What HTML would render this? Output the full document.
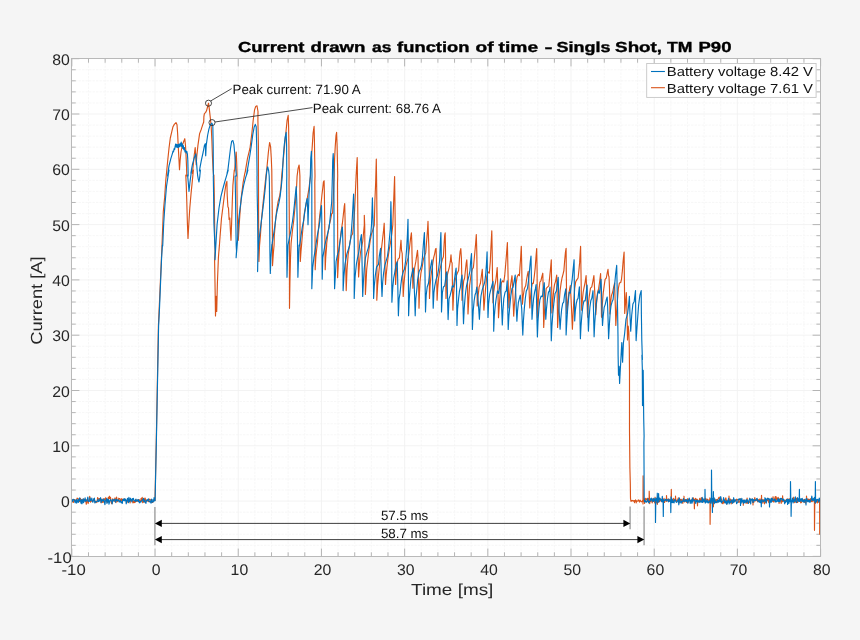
<!DOCTYPE html>
<html><head><meta charset="utf-8"><title>Current drawn as function of time</title>
<style>html,body{margin:0;padding:0;background:#f5f5f5;overflow:hidden}svg{display:block;will-change:transform}text{font-family:"Liberation Sans",sans-serif;text-rendering:geometricPrecision}</style></head><body>
<svg width="860" height="640" viewBox="0 0 860 640">
<rect x="0" y="0" width="860" height="640" fill="#f5f5f5"/>
<rect x="71.5" y="58.5" width="749.0" height="498.0" fill="#ffffff"/>
<path d="M88.49,58.5 V556.5 M105.13,58.5 V556.5 M121.77,58.5 V556.5 M138.41,58.5 V556.5 M171.68,58.5 V556.5 M188.32,58.5 V556.5 M204.96,58.5 V556.5 M221.60,58.5 V556.5 M254.88,58.5 V556.5 M271.52,58.5 V556.5 M288.15,58.5 V556.5 M304.79,58.5 V556.5 M338.07,58.5 V556.5 M354.71,58.5 V556.5 M371.35,58.5 V556.5 M387.99,58.5 V556.5 M421.26,58.5 V556.5 M437.90,58.5 V556.5 M454.54,58.5 V556.5 M471.18,58.5 V556.5 M504.46,58.5 V556.5 M521.10,58.5 V556.5 M537.74,58.5 V556.5 M554.38,58.5 V556.5 M587.65,58.5 V556.5 M604.29,58.5 V556.5 M620.93,58.5 V556.5 M637.57,58.5 V556.5 M670.85,58.5 V556.5 M687.49,58.5 V556.5 M704.12,58.5 V556.5 M720.76,58.5 V556.5 M754.04,58.5 V556.5 M770.68,58.5 V556.5 M787.32,58.5 V556.5 M803.96,58.5 V556.5 M71.5,545.34 H820.5 M71.5,534.28 H820.5 M71.5,523.22 H820.5 M71.5,512.16 H820.5 M71.5,490.04 H820.5 M71.5,478.98 H820.5 M71.5,467.92 H820.5 M71.5,456.86 H820.5 M71.5,434.74 H820.5 M71.5,423.68 H820.5 M71.5,412.62 H820.5 M71.5,401.56 H820.5 M71.5,379.44 H820.5 M71.5,368.38 H820.5 M71.5,357.32 H820.5 M71.5,346.26 H820.5 M71.5,324.14 H820.5 M71.5,313.08 H820.5 M71.5,302.02 H820.5 M71.5,290.96 H820.5 M71.5,268.84 H820.5 M71.5,257.78 H820.5 M71.5,246.72 H820.5 M71.5,235.66 H820.5 M71.5,213.54 H820.5 M71.5,202.48 H820.5 M71.5,191.42 H820.5 M71.5,180.36 H820.5 M71.5,158.24 H820.5 M71.5,147.18 H820.5 M71.5,136.12 H820.5 M71.5,125.06 H820.5 M71.5,102.94 H820.5 M71.5,91.88 H820.5 M71.5,80.82 H820.5 M71.5,69.76 H820.5" stroke="#f6f6f6" stroke-width="0.9" stroke-dasharray="2.4 1.1" fill="none"/>
<path d="M155.04,58.5 V556.5 M238.24,58.5 V556.5 M321.43,58.5 V556.5 M404.63,58.5 V556.5 M487.82,58.5 V556.5 M571.01,58.5 V556.5 M654.21,58.5 V556.5 M737.40,58.5 V556.5 M71.5,501.10 H820.5 M71.5,445.80 H820.5 M71.5,390.50 H820.5 M71.5,335.20 H820.5 M71.5,279.90 H820.5 M71.5,224.60 H820.5 M71.5,169.30 H820.5 M71.5,114.00 H820.5" stroke="#f2f2f2" stroke-width="0.9" fill="none"/>
<path d="M71.85,556.5 v-7.9 M71.85,58.5 v7.9 M88.49,556.5 v-4.2 M88.49,58.5 v4.2 M105.13,556.5 v-4.2 M105.13,58.5 v4.2 M121.77,556.5 v-4.2 M121.77,58.5 v4.2 M138.41,556.5 v-4.2 M138.41,58.5 v4.2 M155.04,556.5 v-7.9 M155.04,58.5 v7.9 M171.68,556.5 v-4.2 M171.68,58.5 v4.2 M188.32,556.5 v-4.2 M188.32,58.5 v4.2 M204.96,556.5 v-4.2 M204.96,58.5 v4.2 M221.60,556.5 v-4.2 M221.60,58.5 v4.2 M238.24,556.5 v-7.9 M238.24,58.5 v7.9 M254.88,556.5 v-4.2 M254.88,58.5 v4.2 M271.52,556.5 v-4.2 M271.52,58.5 v4.2 M288.15,556.5 v-4.2 M288.15,58.5 v4.2 M304.79,556.5 v-4.2 M304.79,58.5 v4.2 M321.43,556.5 v-7.9 M321.43,58.5 v7.9 M338.07,556.5 v-4.2 M338.07,58.5 v4.2 M354.71,556.5 v-4.2 M354.71,58.5 v4.2 M371.35,556.5 v-4.2 M371.35,58.5 v4.2 M387.99,556.5 v-4.2 M387.99,58.5 v4.2 M404.63,556.5 v-7.9 M404.63,58.5 v7.9 M421.26,556.5 v-4.2 M421.26,58.5 v4.2 M437.90,556.5 v-4.2 M437.90,58.5 v4.2 M454.54,556.5 v-4.2 M454.54,58.5 v4.2 M471.18,556.5 v-4.2 M471.18,58.5 v4.2 M487.82,556.5 v-7.9 M487.82,58.5 v7.9 M504.46,556.5 v-4.2 M504.46,58.5 v4.2 M521.10,556.5 v-4.2 M521.10,58.5 v4.2 M537.74,556.5 v-4.2 M537.74,58.5 v4.2 M554.38,556.5 v-4.2 M554.38,58.5 v4.2 M571.01,556.5 v-7.9 M571.01,58.5 v7.9 M587.65,556.5 v-4.2 M587.65,58.5 v4.2 M604.29,556.5 v-4.2 M604.29,58.5 v4.2 M620.93,556.5 v-4.2 M620.93,58.5 v4.2 M637.57,556.5 v-4.2 M637.57,58.5 v4.2 M654.21,556.5 v-7.9 M654.21,58.5 v7.9 M670.85,556.5 v-4.2 M670.85,58.5 v4.2 M687.49,556.5 v-4.2 M687.49,58.5 v4.2 M704.12,556.5 v-4.2 M704.12,58.5 v4.2 M720.76,556.5 v-4.2 M720.76,58.5 v4.2 M737.40,556.5 v-7.9 M737.40,58.5 v7.9 M754.04,556.5 v-4.2 M754.04,58.5 v4.2 M770.68,556.5 v-4.2 M770.68,58.5 v4.2 M787.32,556.5 v-4.2 M787.32,58.5 v4.2 M803.96,556.5 v-4.2 M803.96,58.5 v4.2 M820.60,556.5 v-7.9 M820.60,58.5 v7.9 M71.5,556.40 h7.9 M820.5,556.40 h-7.9 M71.5,545.34 h4.2 M820.5,545.34 h-4.2 M71.5,534.28 h4.2 M820.5,534.28 h-4.2 M71.5,523.22 h4.2 M820.5,523.22 h-4.2 M71.5,512.16 h4.2 M820.5,512.16 h-4.2 M71.5,501.10 h7.9 M820.5,501.10 h-7.9 M71.5,490.04 h4.2 M820.5,490.04 h-4.2 M71.5,478.98 h4.2 M820.5,478.98 h-4.2 M71.5,467.92 h4.2 M820.5,467.92 h-4.2 M71.5,456.86 h4.2 M820.5,456.86 h-4.2 M71.5,445.80 h7.9 M820.5,445.80 h-7.9 M71.5,434.74 h4.2 M820.5,434.74 h-4.2 M71.5,423.68 h4.2 M820.5,423.68 h-4.2 M71.5,412.62 h4.2 M820.5,412.62 h-4.2 M71.5,401.56 h4.2 M820.5,401.56 h-4.2 M71.5,390.50 h7.9 M820.5,390.50 h-7.9 M71.5,379.44 h4.2 M820.5,379.44 h-4.2 M71.5,368.38 h4.2 M820.5,368.38 h-4.2 M71.5,357.32 h4.2 M820.5,357.32 h-4.2 M71.5,346.26 h4.2 M820.5,346.26 h-4.2 M71.5,335.20 h7.9 M820.5,335.20 h-7.9 M71.5,324.14 h4.2 M820.5,324.14 h-4.2 M71.5,313.08 h4.2 M820.5,313.08 h-4.2 M71.5,302.02 h4.2 M820.5,302.02 h-4.2 M71.5,290.96 h4.2 M820.5,290.96 h-4.2 M71.5,279.90 h7.9 M820.5,279.90 h-7.9 M71.5,268.84 h4.2 M820.5,268.84 h-4.2 M71.5,257.78 h4.2 M820.5,257.78 h-4.2 M71.5,246.72 h4.2 M820.5,246.72 h-4.2 M71.5,235.66 h4.2 M820.5,235.66 h-4.2 M71.5,224.60 h7.9 M820.5,224.60 h-7.9 M71.5,213.54 h4.2 M820.5,213.54 h-4.2 M71.5,202.48 h4.2 M820.5,202.48 h-4.2 M71.5,191.42 h4.2 M820.5,191.42 h-4.2 M71.5,180.36 h4.2 M820.5,180.36 h-4.2 M71.5,169.30 h7.9 M820.5,169.30 h-7.9 M71.5,158.24 h4.2 M820.5,158.24 h-4.2 M71.5,147.18 h4.2 M820.5,147.18 h-4.2 M71.5,136.12 h4.2 M820.5,136.12 h-4.2 M71.5,125.06 h4.2 M820.5,125.06 h-4.2 M71.5,114.00 h7.9 M820.5,114.00 h-7.9 M71.5,102.94 h4.2 M820.5,102.94 h-4.2 M71.5,91.88 h4.2 M820.5,91.88 h-4.2 M71.5,80.82 h4.2 M820.5,80.82 h-4.2 M71.5,69.76 h4.2 M820.5,69.76 h-4.2 M71.5,58.70 h7.9 M820.5,58.70 h-7.9" stroke="#adadad" stroke-width="0.9" fill="none"/>
<!--CURVES-->
<clipPath id="c"><rect x="71.5" y="58.5" width="749.0" height="498.0"/></clipPath>
<g clip-path="url(#c)" fill="none" stroke-linejoin="round" stroke-linecap="butt">
<path d="M71.5,499.7 L72.0,499.6 L72.5,500.2 L73.1,502.5 L73.6,502.1 L74.0,500.6 L74.4,499.5 L74.9,499.7 L75.5,501.7 L76.0,500.4 L76.7,500.0 L77.1,498.2 L77.7,498.4 L78.2,498.8 L78.7,501.0 L79.2,499.6 L79.6,501.7 L80.2,498.3 L80.8,499.3 L81.2,502.3 L81.6,500.1 L82.0,499.5 L82.6,499.8 L83.2,500.1 L83.7,498.9 L84.1,500.3 L84.7,501.2 L85.3,499.6 L85.8,500.9 L86.3,504.3 L86.8,499.6 L87.3,500.3 L87.8,502.3 L88.2,503.5 L88.5,501.9 L89.1,499.9 L89.7,496.3 L90.3,499.6 L90.6,502.1 L91.1,500.5 L91.8,501.1 L92.3,501.2 L92.8,500.5 L93.1,500.2 L93.6,499.8 L94.2,498.7 L94.8,501.6 L95.2,502.4 L95.7,501.2 L96.2,501.3 L96.8,502.6 L97.2,501.3 L97.6,497.6 L98.0,498.2 L98.4,499.0 L99.0,500.3 L99.5,498.5 L100.1,499.5 L100.7,500.1 L101.1,502.9 L101.5,499.8 L101.9,499.0 L102.5,502.4 L103.1,500.1 L103.4,502.1 L103.9,498.5 L104.4,499.1 L104.9,499.0 L105.2,500.4 L105.8,497.6 L106.3,501.0 L106.8,502.2 L107.3,502.2 L107.8,502.3 L108.3,497.4 L108.9,498.6 L109.4,496.2 L110.0,498.7 L110.5,497.3 L111.1,502.1 L111.7,503.7 L112.2,500.5 L112.8,498.8 L113.2,500.7 L113.8,500.4 L114.4,501.3 L115.0,497.8 L115.6,500.0 L116.0,502.6 L116.6,497.0 L117.2,500.8 L117.7,501.6 L118.3,500.1 L118.8,498.2 L119.3,499.0 L119.8,498.5 L120.2,500.7 L120.8,500.8 L121.5,498.7 L122.0,501.1 L122.6,499.2 L123.0,499.1 L123.6,500.0 L124.2,499.0 L124.8,500.6 L125.4,500.3 L125.9,500.4 L126.4,500.3 L127.0,502.7 L127.5,501.1 L128.0,498.9 L128.5,499.4 L129.0,498.9 L129.6,499.5 L130.1,503.0 L130.5,499.0 L131.0,500.3 L131.5,500.8 L132.0,500.1 L132.5,501.1 L132.9,503.0 L133.4,500.9 L134.1,502.5 L134.4,501.6 L135.0,502.6 L135.6,499.5 L135.9,500.3 L136.6,501.3 L137.0,500.1 L137.5,501.2 L138.0,500.0 L138.4,501.5 L138.8,499.6 L139.3,499.7 L139.7,500.7 L140.3,500.5 L140.8,500.3 L141.1,498.4 L141.7,500.8 L142.2,497.3 L142.7,502.6 L143.3,501.9 L143.7,501.4 L144.2,502.2 L144.7,498.3 L145.2,498.1 L145.7,501.3 L146.2,501.4 L146.7,500.2 L147.2,501.0 L147.8,499.8 L148.4,501.7 L149.0,499.9 L149.6,499.2 L150.0,499.3 L150.6,500.1 L151.0,499.9 L151.6,502.4 L151.9,501.5 L152.3,502.4 L152.7,502.5 L153.3,500.4 L153.7,499.9 L154.1,499.7 L154.6,500.4 L155.0,500.5 L156.3,440.0 L158.4,326.0 L161.8,250.0 L163.3,211.8 L164.6,197.9 L165.8,180.1 L166.8,170.0 L166.2,176.0 L167.7,160.8 L169.0,148.2 L170.3,138.0 L171.8,131.7 L173.0,126.7 L174.3,124.4 L176.0,122.6 L177.0,124.8 L177.6,133.0 L178.2,145.6 L178.9,158.3 L179.5,169.7 L180.1,160.8 L181.0,152.0 L182.3,145.6 L183.6,141.8 L184.8,138.7 L185.5,145.6 L186.0,154.5 L186.5,165.9 L186.8,176.0 L185.8,175.1 L186.3,186.5 L186.8,201.7 L187.4,223.2 L188.0,238.4 L188.7,225.7 L189.8,208.0 L191.0,194.1 L192.4,180.1 L193.4,170.0 L192.4,173.5 L193.4,163.4 L194.3,154.5 L195.2,147.5 L195.7,155.8 L196.2,164.6 L196.7,157.0 L197.9,145.6 L199.6,133.6 L201.3,129.2 L202.5,125.4 L203.7,122.0 L203.9,116.4 L204.4,113.6 L205.5,112.6 L206.5,110.8 L207.4,107.5 L208.5,103.2 L209.3,108.9 L210.3,117.8 L211.2,126.7 L211.9,140.6 L212.4,155.8 L213.1,169.7 L213.6,176.0 L213.9,175.1 L214.3,195.3 L214.6,220.6 L214.8,240.9 L215.1,251.0 L214.6,260.2 L215.0,283.0 L215.5,315.9 L216.1,296.3 L216.7,311.5 L217.4,283.0 L218.4,257.7 L219.4,245.0 L219.0,251.0 L220.3,233.3 L221.5,218.1 L222.8,208.0 L224.7,192.8 L226.0,183.9 L226.9,181.4 L227.2,195.3 L227.9,206.7 L228.5,208.0 L229.1,219.4 L229.8,218.1 L230.4,230.8 L231.0,240.3 L231.7,220.6 L232.3,201.7 L232.9,185.2 L233.7,176.3 L234.3,170.0 L234.6,171.0 L235.5,158.3 L236.2,152.0 L236.7,163.4 L237.1,176.0 L236.9,182.7 L237.2,208.0 L237.7,227.0 L238.3,240.3 L238.9,229.5 L239.9,214.3 L241.2,197.9 L243.1,182.7 L244.7,173.8 L245.7,170.0 L245.2,172.2 L247.5,158.3 L250.0,148.2 L251.9,133.0 L253.2,120.3 L254.5,110.2 L255.7,106.4 L257.0,105.8 L258.0,111.5 L257.9,120.3 L258.4,145.6 L258.5,182.7 L258.6,220.6 L258.7,251.0 L258.9,261.5 L259.5,246.0 L260.4,235.8 L261.4,220.6 L262.7,206.7 L263.9,195.3 L265.2,182.7 L266.0,176.1 L267.1,165.9 L268.4,152.0 L269.6,142.5 L270.6,146.9 L271.3,158.3 L271.8,171.0 L271.9,182.7 L272.2,208.0 L272.4,233.3 L272.5,265.6 L273.4,252.6 L274.1,245.0 L274.3,235.8 L275.3,223.2 L276.6,210.5 L278.1,201.7 L279.8,195.3 L281.0,186.5 L281.7,176.1 L283.2,160.8 L284.8,143.1 L286.1,130.5 L287.1,120.3 L288.2,115.3 L288.6,126.7 L288.9,145.6 L289.1,176.0 L289.0,182.7 L289.3,220.6 L289.4,251.0 L289.5,308.3 L289.9,283.0 L290.5,257.7 L291.1,243.4 L292.4,230.8 L293.7,220.6 L294.9,208.0 L295.8,197.9 L296.6,186.5 L297.1,176.1 L298.1,168.4 L299.1,165.0 L299.6,171.0 L299.9,176.0 L299.9,182.7 L300.0,220.6 L300.1,251.0 L300.3,261.5 L301.0,251.3 L301.7,243.4 L302.5,233.3 L303.4,223.2 L304.4,213.0 L305.7,206.7 L307.2,198.5 L308.9,189.0 L310.5,176.1 L311.4,158.3 L312.3,145.6 L313.1,133.0 L314.1,126.4 L314.4,139.3 L314.7,158.3 L315.0,176.0 L314.8,182.7 L315.0,220.6 L315.1,251.0 L315.2,269.7 L315.8,257.7 L316.7,248.8 L317.4,243.4 L318.4,229.5 L319.6,216.8 L320.9,205.5 L321.9,195.3 L322.8,187.7 L323.4,182.0 L324.1,180.8 L324.4,195.3 L324.7,220.6 L325.0,251.0 L325.2,269.7 L325.7,257.7 L326.5,247.5 L326.7,243.4 L327.9,233.3 L329.1,225.7 L330.4,220.6 L331.7,213.7 L332.6,213.0 L333.3,197.9 L333.8,182.7 L334.1,176.1 L334.6,158.3 L335.3,145.6 L336.0,135.5 L336.6,132.4 L337.1,145.6 L337.5,164.6 L337.7,176.0 L337.5,182.7 L337.6,220.6 L337.7,251.0 L337.6,277.7 L338.3,264.0 L339.0,252.6 L339.9,242.2 L341.2,230.8 L342.4,223.2 L343.4,214.3 L344.2,206.7 L344.7,203.6 L345.1,220.6 L345.3,251.0 L345.7,264.0 L346.2,290.6 L347.0,270.3 L348.1,255.1 L350.0,242.2 L351.3,235.8 L352.6,233.9 L353.6,224.4 L354.5,211.8 L355.3,195.3 L356.1,176.1 L357.2,157.6 L357.6,188.0 L357.9,225.0 L358.1,250.3 L358.4,269.3 L358.6,276.9 L359.5,263.0 L360.4,252.9 L361.4,247.8 L362.7,241.5 L363.7,231.3 L364.3,225.0 L364.3,215.2 L364.7,225.0 L364.9,250.3 L365.2,275.6 L365.4,294.5 L366.1,282.0 L366.7,269.3 L367.7,260.5 L369.0,249.1 L370.3,240.2 L371.5,233.9 L372.8,230.1 L374.3,225.0 L374.9,200.6 L375.7,181.7 L376.3,159.1 L376.7,188.0 L377.0,225.0 L377.0,263.0 L376.8,300.2 L377.6,285.8 L378.5,275.6 L379.8,263.0 L381.0,252.9 L382.3,241.5 L383.6,230.1 L384.2,223.2 L384.6,237.7 L384.9,263.0 L385.5,284.5 L386.1,275.6 L387.0,266.8 L388.0,257.9 L389.3,249.1 L390.5,242.7 L391.8,233.9 L392.8,225.0 L393.7,200.6 L394.6,176.6 L394.9,200.6 L395.2,225.0 L395.3,256.7 L395.6,284.5 L396.2,273.1 L397.1,263.0 L398.1,259.2 L399.4,257.9 L400.3,247.8 L401.0,240.2 L401.5,250.3 L402.2,253.5 L402.5,263.0 L402.9,282.0 L403.2,296.4 L403.8,285.8 L404.7,275.6 L405.7,266.8 L407.0,261.7 L408.2,257.9 L409.5,247.8 L410.5,238.9 L411.4,232.9 L411.8,241.5 L412.0,254.1 L412.4,269.3 L412.9,288.2 L413.6,278.2 L414.6,268.0 L415.8,261.7 L416.9,254.1 L417.5,250.3 L418.0,257.9 L418.4,275.6 L418.8,294.6 L419.0,308.2 L419.5,292.1 L420.0,282.0 L420.9,273.1 L422.2,266.8 L423.4,259.2 L424.7,255.4 L425.7,252.9 L426.6,241.5 L427.5,230.1 L428.0,221.3 L428.5,237.7 L428.9,247.8 L429.3,275.6 L429.5,298.4 L430.1,285.8 L431.0,275.6 L432.3,266.8 L433.6,257.9 L434.6,254.1 L435.5,249.1 L436.1,248.4 L436.5,263.0 L436.9,288.3 L437.1,300.2 L437.7,288.3 L438.6,278.2 L439.9,269.3 L441.2,264.3 L442.4,259.2 L443.4,256.7 L444.1,244.0 L444.7,235.1 L445.2,232.9 L445.5,250.3 L445.7,275.6 L446.0,298.4 L446.5,285.8 L447.2,275.6 L448.1,271.8 L449.4,266.8 L450.3,261.7 L451.0,254.8 L451.5,261.7 L452.1,263.0 L452.4,282.0 L452.9,310.1 L453.6,294.6 L454.1,288.3 L455.1,280.7 L456.4,275.6 L457.4,273.1 L458.6,270.6 L459.5,258.0 L460.1,251.7 L460.8,248.5 L461.4,258.0 L461.8,277.0 L462.0,300.3 L462.7,290.9 L463.7,280.8 L464.6,278.2 L465.4,270.6 L466.2,263.0 L466.8,259.9 L467.3,270.6 L467.7,296.0 L468.0,313.9 L468.7,301.0 L469.6,285.8 L470.9,275.7 L472.2,269.4 L473.4,267.5 L474.3,258.0 L474.9,251.7 L475.7,242.8 L476.3,234.6 L476.8,251.7 L477.1,277.0 L477.2,306.0 L478.1,296.0 L479.1,287.1 L480.4,283.3 L481.4,275.7 L482.3,269.4 L482.7,279.5 L483.3,290.9 L483.9,310.1 L484.8,298.5 L485.7,287.1 L486.7,277.0 L488.0,271.9 L489.3,273.2 L490.3,261.8 L490.9,247.9 L491.8,230.8 L492.2,251.7 L492.5,277.0 L493.0,302.8 L493.7,292.2 L494.6,285.8 L495.6,282.0 L496.5,274.4 L497.2,267.5 L497.6,280.8 L498.1,298.5 L498.5,317.7 L499.4,303.6 L500.4,290.9 L501.3,283.3 L502.5,280.8 L503.8,282.0 L504.7,275.7 L505.7,264.3 L506.6,252.9 L507.4,242.5 L507.7,258.0 L508.2,283.3 L508.9,307.9 L509.5,296.0 L510.5,285.8 L511.4,279.5 L512.0,275.7 L512.5,285.8 L513.1,301.0 L513.7,316.1 L514.3,306.1 L515.2,296.0 L516.1,283.3 L517.1,277.0 L518.4,274.4 L519.4,275.7 L520.0,266.8 L520.7,256.7 L521.3,246.3 L521.7,264.3 L522.0,283.3 L522.4,304.1 L523.2,296.0 L524.4,288.4 L525.7,285.8 L526.6,279.5 L527.5,274.4 L528.2,271.3 L528.8,280.8 L529.3,296.0 L529.8,307.9 L530.4,298.5 L531.3,288.4 L532.3,283.3 L533.3,283.3 L534.2,277.0 L535.2,268.1 L536.1,255.5 L536.7,248.5 L537.1,270.6 L537.2,296.0 L537.4,318.0 L538.0,306.1 L538.9,290.9 L539.9,282.0 L540.9,280.8 L541.8,277.0 L542.8,273.2 L543.2,289.6 L543.4,308.6 L543.7,327.5 L544.3,315.0 L545.2,301.0 L546.2,288.4 L547.5,287.1 L548.8,285.8 L549.8,275.7 L550.7,266.8 L551.3,259.9 L551.5,277.0 L551.8,296.0 L551.9,312.9 L552.6,303.6 L553.6,290.9 L554.5,284.6 L555.7,280.8 L556.7,275.1 L557.1,289.6 L557.4,308.6 L557.6,327.5 L558.2,316.0 L559.1,303.4 L560.1,290.7 L561.1,283.1 L562.0,278.0 L563.0,274.3 L563.9,270.5 L564.7,260.3 L565.4,252.7 L566.1,248.3 L566.3,273.0 L566.6,298.3 L566.8,313.4 L567.7,303.4 L568.7,294.5 L569.6,289.4 L570.3,285.6 L570.9,295.8 L571.5,308.4 L572.4,329.2 L573.0,316.0 L573.8,300.8 L574.7,288.2 L575.7,281.8 L576.8,279.9 L578.1,278.0 L578.9,270.5 L579.6,262.9 L580.1,254.0 L580.6,246.4 L581.0,273.0 L581.4,298.3 L581.7,310.2 L582.3,300.8 L583.2,292.0 L584.2,286.9 L585.2,281.8 L586.1,275.5 L586.5,285.6 L587.0,300.8 L587.6,317.2 L588.2,305.9 L589.3,295.8 L590.5,288.2 L591.8,286.9 L593.0,280.6 L593.9,275.5 L594.4,285.6 L595.2,300.8 L595.8,314.6 L596.5,303.4 L597.5,293.2 L598.7,288.2 L599.8,280.6 L600.6,273.6 L601.0,288.2 L601.3,304.6 L601.5,317.2 L602.2,305.9 L603.2,293.2 L604.2,285.6 L605.1,279.3 L606.3,278.0 L607.2,273.0 L608.0,269.4 L608.5,275.5 L609.0,276.8 L609.5,288.2 L609.8,300.8 L609.9,314.0 L610.5,303.4 L611.4,295.8 L612.7,292.0 L613.7,286.9 L614.6,283.1 L615.0,295.8 L615.5,311.0 L615.8,325.4 L616.5,313.5 L617.4,300.8 L618.4,288.2 L619.4,283.1 L620.7,282.5 L621.5,279.3 L622.4,270.5 L623.2,260.3 L624.1,252.1 L624.3,273.0 L624.6,298.3 L624.7,313.4 L625.5,303.4 L626.3,292.6 L626.7,302.6 L627.2,321.6 L627.5,340.0 L628.2,326.0 L628.8,331.7 L629.3,346.9 L629.5,371.0 L629.5,430.0 L629.9,468.0 L630.3,483.2 L630.5,498.4 L630.8,500.3 L631.0,501.4 L631.5,501.0 L632.0,500.5 L632.4,500.8 L632.9,500.4 L633.4,501.0 L633.9,501.4 L634.4,500.7 L634.4,500.7 L634.5,502.6 L634.8,500.9 L634.9,501.6 L635.6,499.9 L636.1,500.9 L636.2,502.9 L636.5,500.9 L636.4,501.5 L637.1,501.3 L637.8,500.9 L638.4,499.9 L639.0,501.1 L639.5,502.1 L640.0,500.1 L640.4,500.6 L641.0,501.5 L641.5,501.8 L642.2,501.3 L642.8,500.3 L643.0,504.0 L643.0,500.8 L643.1,475.8 L643.4,501.3 L643.4,500.1 L643.7,499.8 L644.1,499.6 L644.6,503.4 L644.9,498.9 L645.3,499.7 L645.8,498.3 L646.4,499.5 L646.8,499.0 L647.3,501.6 L647.9,498.2 L648.4,501.0 L648.8,500.3 L649.1,500.7 L649.2,491.2 L649.5,500.2 L649.3,501.7 L649.7,503.7 L650.1,501.2 L650.6,501.5 L651.1,500.3 L651.7,500.8 L652.2,502.9 L652.7,498.9 L653.3,501.5 L653.9,499.5 L654.4,501.7 L654.8,503.0 L655.1,497.2 L655.7,503.2 L656.3,502.4 L656.9,500.6 L657.3,504.4 L657.9,499.4 L658.4,502.1 L659.0,500.2 L659.6,501.7 L660.1,500.7 L660.5,498.9 L660.8,499.7 L661.4,501.2 L661.7,499.3 L662.2,501.6 L662.7,501.0 L663.2,501.4 L663.5,500.4 L664.0,498.3 L664.5,502.5 L665.1,500.6 L665.5,500.8 L665.9,500.0 L666.4,500.7 L666.5,495.5 L666.8,501.5 L666.5,501.0 L667.1,500.3 L667.7,500.6 L668.2,498.8 L668.7,500.7 L669.0,501.5 L669.5,499.6 L670.0,500.0 L670.5,501.4 L671.2,498.7 L671.1,499.8 L671.3,489.4 L671.5,500.0 L671.6,501.0 L672.2,502.4 L672.7,501.6 L673.3,498.3 L673.8,500.5 L674.3,500.4 L674.8,500.2 L675.3,498.1 L675.4,500.1 L675.5,496.0 L675.8,500.5 L675.8,498.8 L676.3,501.7 L676.9,500.6 L677.4,500.2 L677.9,499.2 L678.3,497.9 L678.7,501.7 L679.3,503.0 L679.6,501.0 L680.0,501.4 L680.5,499.4 L681.2,500.8 L681.8,499.3 L682.4,502.2 L682.8,503.4 L683.4,498.9 L683.9,501.3 L683.9,500.5 L684.0,496.2 L684.2,500.4 L684.5,502.0 L684.9,499.5 L685.3,499.8 L685.9,500.8 L686.4,502.4 L687.0,501.8 L687.4,498.7 L688.0,502.9 L688.4,501.7 L688.9,499.1 L689.6,500.6 L690.2,501.2 L690.6,501.2 L691.1,502.1 L691.5,499.7 L692.0,499.8 L692.5,501.3 L692.9,499.4 L693.4,497.8 L693.8,500.3 L694.3,499.7 L694.2,501.2 L694.4,508.8 L694.6,500.3 L694.8,499.9 L695.4,498.4 L696.0,500.2 L696.5,499.1 L697.0,501.1 L697.3,499.3 L697.4,501.3 L697.5,505.8 L697.8,500.5 L697.8,500.0 L698.2,502.0 L698.7,501.6 L699.2,501.8 L699.7,498.3 L700.3,501.8 L700.7,500.7 L701.3,497.6 L701.7,501.4 L702.0,499.9 L702.6,498.7 L703.2,501.2 L703.7,501.9 L704.1,499.4 L704.8,498.9 L705.3,500.5 L705.7,498.3 L706.1,499.3 L706.7,500.5 L707.3,499.2 L707.7,499.4 L708.4,500.2 L709.0,500.5 L709.4,502.5 L709.9,497.9 L710.0,500.8 L710.1,524.3 L710.4,500.8 L710.3,503.1 L710.9,501.9 L711.4,499.4 L712.0,502.7 L712.6,501.9 L713.0,500.6 L713.2,500.5 L713.4,506.8 L713.6,500.5 L713.6,500.7 L714.0,499.8 L714.6,498.7 L715.0,501.2 L715.4,502.0 L715.9,500.2 L716.5,499.5 L717.0,502.6 L717.5,499.5 L717.9,499.0 L718.3,499.0 L718.7,497.8 L719.2,497.2 L719.6,498.0 L720.1,500.8 L720.7,497.5 L721.2,499.0 L721.7,499.8 L722.3,503.6 L722.8,502.2 L723.1,503.6 L723.5,501.1 L724.1,501.7 L724.5,502.8 L724.9,502.4 L725.2,499.6 L725.8,497.9 L726.2,499.4 L726.7,501.0 L727.0,504.0 L727.6,500.7 L728.1,501.2 L728.6,500.8 L728.9,501.7 L729.0,496.0 L729.2,499.6 L729.0,501.2 L729.4,500.5 L730.0,501.7 L730.5,499.1 L731.2,503.9 L731.7,501.7 L732.1,501.4 L732.8,499.8 L733.2,502.7 L733.7,500.5 L734.3,501.4 L734.8,500.2 L735.2,501.2 L735.7,500.7 L736.1,501.0 L736.6,499.2 L737.1,499.5 L737.5,499.6 L738.0,500.0 L738.5,502.1 L739.0,502.4 L739.7,501.8 L740.3,498.7 L740.7,499.9 L741.3,501.5 L741.7,500.5 L742.3,500.3 L742.9,502.2 L743.1,501.1 L743.3,505.2 L743.5,500.0 L743.4,502.0 L743.8,501.8 L744.3,500.3 L744.7,500.6 L745.1,502.0 L745.6,500.9 L746.1,503.3 L746.7,502.6 L747.1,498.1 L747.6,503.3 L748.0,501.7 L748.6,501.7 L749.2,501.7 L749.7,502.4 L750.2,501.0 L750.7,499.1 L751.3,499.9 L751.7,499.9 L752.2,499.0 L752.5,502.1 L752.9,499.8 L753.0,505.0 L753.2,499.8 L753.1,500.4 L753.5,500.1 L753.9,502.3 L754.3,499.8 L754.8,497.5 L755.3,500.8 L755.7,500.7 L756.2,499.6 L756.6,500.4 L757.0,499.3 L757.7,501.9 L758.2,501.4 L758.7,499.6 L759.3,501.6 L759.9,498.8 L760.5,500.6 L761.0,501.5 L761.4,500.7 L761.5,495.3 L761.8,501.7 L761.6,501.1 L762.2,503.1 L762.6,499.9 L763.2,499.6 L763.8,501.3 L764.4,503.9 L764.9,501.7 L765.4,500.2 L765.8,502.3 L766.3,501.8 L766.8,500.1 L767.4,500.7 L768.1,498.2 L768.5,501.4 L768.8,502.6 L769.5,500.5 L769.9,500.3 L770.5,501.2 L770.9,500.0 L771.5,498.2 L771.9,500.2 L772.4,501.3 L773.1,496.7 L773.5,501.5 L773.9,502.1 L774.5,500.0 L775.2,496.6 L775.6,501.0 L776.0,498.2 L775.9,499.6 L776.0,496.5 L776.2,499.9 L776.4,499.6 L776.7,498.1 L777.1,498.7 L777.5,498.0 L777.9,501.0 L778.2,497.3 L778.6,499.1 L779.1,503.4 L779.6,498.9 L780.0,500.3 L780.7,499.9 L781.2,503.4 L781.6,499.9 L781.9,501.7 L782.4,501.7 L782.5,500.8 L782.6,495.8 L782.9,501.2 L782.8,501.6 L783.2,499.6 L783.6,500.0 L784.2,501.1 L784.9,500.3 L785.5,502.0 L785.9,500.6 L786.4,499.4 L787.0,500.7 L787.6,498.9 L788.0,501.0 L788.4,501.1 L789.0,499.1 L789.4,498.8 L789.8,499.7 L790.3,500.3 L790.7,501.1 L791.1,502.0 L791.6,501.1 L792.1,501.4 L792.7,500.5 L793.3,499.6 L793.7,497.2 L794.3,502.7 L794.7,501.2 L795.2,500.2 L795.6,501.1 L796.1,502.6 L796.5,498.2 L797.1,502.4 L797.7,502.4 L798.1,500.9 L798.7,499.4 L799.1,498.6 L799.6,500.3 L800.2,501.0 L800.8,502.9 L801.3,502.5 L801.8,501.3 L802.5,499.4 L803.0,499.6 L803.4,500.8 L804.1,502.5 L804.5,499.4 L804.9,500.5 L805.3,500.2 L805.7,503.2 L806.3,499.3 L806.4,501.3 L806.5,496.0 L806.8,500.1 L806.7,500.1 L807.0,499.5 L807.4,501.0 L807.7,499.1 L808.3,499.7 L808.8,499.1 L809.4,500.9 L810.0,499.6 L810.5,498.7 L811.1,501.4 L811.6,498.7 L812.0,501.7 L812.6,500.4 L813.0,500.9 L813.6,499.0 L814.0,500.1 L814.4,500.7 L814.5,530.3 L814.8,500.5 L814.6,499.3 L815.1,503.3 L815.5,502.6 L816.0,501.0 L816.4,500.2 L816.9,502.3 L817.3,503.0 L817.8,500.1 L818.4,500.0 L819.0,502.3 L819.4,501.2 L819.6,501.0 L819.7,534.1 L820.0,501.4 L819.8,501.3 L820.3,500.2 L820.5,500.6" stroke="#d95319" stroke-width="1.15"/>
<path d="M71.5,498.8 L72.0,500.8 L72.6,501.3 L73.1,499.4 L73.8,499.6 L74.3,500.2 L74.7,501.0 L75.2,502.8 L75.6,501.4 L76.1,499.7 L76.7,503.1 L77.1,499.6 L77.7,501.5 L78.3,502.5 L78.8,499.2 L79.2,500.9 L79.7,497.9 L80.2,500.8 L80.6,500.9 L81.1,503.3 L81.5,499.8 L82.0,503.8 L82.6,500.8 L83.1,498.9 L83.6,502.7 L84.3,499.6 L84.7,500.6 L85.1,497.8 L85.7,501.5 L86.3,500.8 L86.9,500.6 L87.4,499.1 L87.8,497.1 L88.4,501.4 L89.0,501.2 L89.6,501.2 L90.0,497.8 L90.4,499.8 L90.8,500.7 L91.4,499.8 L91.8,498.0 L92.4,501.3 L92.8,502.2 L93.4,500.7 L93.8,498.8 L94.4,498.2 L94.9,503.0 L95.6,501.6 L96.0,502.0 L96.5,501.8 L97.1,501.3 L97.7,500.9 L98.0,499.3 L98.5,501.6 L99.0,501.2 L99.5,500.8 L99.9,499.0 L100.6,497.7 L101.1,502.4 L101.7,501.5 L102.1,499.3 L102.5,500.0 L103.1,500.8 L103.5,500.5 L103.9,499.0 L104.5,502.3 L104.9,504.6 L105.4,500.9 L106.0,500.8 L106.6,498.6 L107.0,503.4 L107.6,499.0 L108.2,501.8 L108.6,499.5 L109.0,504.2 L109.6,501.5 L110.2,500.2 L110.8,499.6 L111.3,501.0 L111.8,501.3 L112.2,503.9 L112.7,499.7 L113.3,501.0 L113.8,499.7 L114.2,499.3 L114.8,499.6 L115.4,502.2 L115.9,500.9 L116.4,499.1 L117.0,500.9 L117.4,500.2 L118.0,499.8 L118.5,500.2 L119.1,501.9 L119.5,502.0 L120.1,500.2 L120.7,502.0 L121.2,502.8 L121.7,501.7 L122.3,503.4 L122.8,499.6 L123.3,500.5 L123.8,499.0 L124.4,500.7 L124.9,498.5 L125.3,500.6 L125.7,499.5 L126.2,503.8 L126.8,500.5 L127.1,499.9 L127.5,498.4 L128.1,501.2 L128.6,502.6 L128.9,497.4 L129.5,501.5 L130.0,501.3 L130.5,498.2 L130.9,499.7 L131.5,499.7 L131.9,501.8 L132.4,498.6 L132.8,500.0 L133.3,498.3 L133.7,499.5 L134.3,500.6 L134.8,500.7 L135.4,501.4 L135.9,499.0 L136.5,501.0 L137.1,500.8 L137.7,499.9 L138.3,501.4 L138.6,499.6 L139.3,502.6 L139.8,502.8 L140.2,501.3 L140.6,501.8 L141.0,501.9 L141.4,501.0 L142.0,500.3 L142.4,500.1 L143.0,499.5 L143.4,498.4 L143.8,501.7 L144.5,499.9 L145.0,502.0 L145.4,502.0 L145.9,503.4 L146.4,500.1 L146.9,500.1 L147.3,500.7 L147.9,499.4 L148.5,498.8 L149.0,501.2 L149.7,501.8 L150.1,500.9 L150.7,502.5 L151.1,503.1 L151.5,499.2 L152.1,499.6 L152.5,502.2 L153.1,501.8 L153.6,501.3 L154.1,497.7 L154.8,501.0 L154.8,500.8 L155.1,500.5 L156.4,440.0 L158.6,326.0 L159.5,308.3 L160.8,276.7 L161.6,257.7 L162.4,245.0 L162.7,246.0 L163.7,223.2 L164.9,205.5 L166.5,186.5 L168.4,173.8 L169.0,170.0 L167.5,176.0 L169.0,165.9 L170.9,158.3 L172.4,153.6 L173.0,151.2 L173.5,151.9 L174.1,148.6 L174.6,149.6 L175.2,146.2 L175.7,144.0 L176.1,147.0 L176.6,144.3 L177.1,147.4 L177.7,144.6 L178.2,147.6 L178.8,144.2 L179.4,146.8 L180.0,143.6 L180.6,146.2 L181.2,142.0 L181.8,146.6 L182.3,143.8 L182.8,148.4 L183.3,145.6 L183.8,149.6 L184.4,147.6 L185.0,151.8 L185.6,150.6 L186.2,153.0 L186.8,151.4 L187.4,154.2 L187.8,160.0 L188.0,168.0 L188.2,176.0 L187.6,175.1 L188.4,183.9 L189.0,191.5 L189.9,182.7 L190.9,175.1 L191.8,170.0 L190.8,173.5 L192.4,164.6 L194.3,157.7 L195.8,153.9 L196.5,162.1 L197.2,171.0 L197.7,176.0 L197.6,175.1 L198.2,178.9 L199.0,182.0 L199.8,176.3 L200.4,170.0 L199.4,171.0 L200.3,165.9 L201.5,159.6 L203.2,152.0 L204.4,145.6 L205.3,143.7 L205.7,155.8 L206.2,145.6 L207.6,135.5 L208.9,129.2 L210.1,125.4 L211.8,123.1 L212.8,125.4 L213.2,145.6 L213.4,176.0 L213.3,176.0 L213.6,195.3 L213.9,223.2 L214.7,240.9 L215.2,251.0 L215.0,259.6 L215.5,251.0 L216.1,240.9 L217.1,224.4 L219.0,208.0 L220.9,196.6 L222.8,189.0 L224.7,182.0 L226.0,177.6 L227.5,172.5 L228.2,170.0 L227.0,173.5 L228.0,169.1 L229.3,158.3 L230.5,148.2 L231.7,141.2 L232.9,140.6 L233.9,144.4 L234.8,154.5 L235.7,168.4 L236.4,176.0 L235.1,176.0 L235.5,195.3 L235.8,220.6 L236.2,246.0 L236.5,251.0 L236.1,257.7 L236.9,248.5 L237.5,240.9 L238.6,220.6 L240.1,208.0 L241.8,195.3 L243.7,185.2 L245.6,177.6 L246.9,173.8 L247.9,170.0 L246.5,174.8 L248.1,165.9 L250.0,154.5 L251.3,145.6 L252.8,134.3 L254.1,127.3 L255.3,124.4 L256.2,126.7 L256.7,145.6 L257.1,176.0 L257.0,176.0 L257.2,195.3 L257.6,214.3 L257.9,251.0 L257.6,271.6 L257.9,257.7 L258.5,245.0 L259.5,235.8 L261.1,223.2 L262.7,210.5 L264.2,197.9 L265.4,186.5 L266.2,176.1 L267.0,169.7 L267.7,166.9 L268.7,171.0 L269.2,176.0 L269.4,182.7 L269.6,208.0 L269.9,251.0 L270.3,273.5 L270.9,257.7 L271.8,245.0 L272.2,243.4 L273.4,235.8 L274.7,227.0 L276.0,216.8 L277.2,210.5 L278.9,202.9 L280.1,196.6 L281.3,186.5 L282.3,176.1 L283.2,158.3 L284.2,145.6 L285.2,136.8 L286.2,132.4 L286.6,145.6 L286.8,176.0 L286.7,182.7 L286.8,251.0 L287.0,277.3 L287.5,257.7 L288.0,245.0 L288.6,242.2 L289.9,235.8 L291.1,229.5 L292.4,221.9 L293.4,214.3 L294.3,205.5 L295.3,195.3 L296.2,186.5 L296.8,201.7 L297.2,220.6 L297.6,251.0 L297.9,277.3 L298.5,257.7 L299.1,245.0 L299.6,246.0 L301.0,235.8 L302.3,227.0 L303.6,220.6 L304.8,211.8 L306.1,202.9 L307.2,198.5 L307.7,210.5 L308.0,224.7 L308.4,211.8 L309.0,195.3 L309.8,182.7 L310.3,176.1 L310.8,158.3 L311.4,151.3 L311.8,160.8 L312.0,176.0 L311.8,182.7 L311.9,251.0 L311.8,288.7 L312.7,267.8 L313.9,257.7 L315.2,250.1 L316.5,240.9 L317.7,233.3 L319.0,227.0 L319.9,220.6 L320.7,211.8 L321.5,205.5 L321.8,220.6 L322.0,251.0 L322.2,279.2 L322.8,257.7 L324.7,246.3 L325.0,244.7 L326.3,239.0 L327.7,233.3 L329.1,227.6 L330.4,215.6 L331.7,201.7 L332.4,176.1 L332.7,160.8 L333.2,153.5 L333.6,163.4 L333.9,176.0 L333.9,182.7 L334.1,251.0 L334.6,288.7 L336.1,261.5 L337.4,255.1 L338.6,251.3 L339.6,244.1 L340.7,237.1 L341.5,230.8 L342.4,227.0 L342.8,239.6 L343.1,251.0 L343.1,290.6 L343.9,276.7 L345.0,264.0 L346.9,253.9 L349.4,246.3 L350.7,238.4 L351.5,229.5 L352.3,218.1 L352.9,206.7 L353.6,194.1 L354.0,208.0 L354.2,233.3 L354.3,251.0 L354.2,298.4 L355.1,276.7 L356.4,264.0 L357.6,257.7 L357.6,257.9 L358.9,251.6 L360.1,241.5 L361.4,234.5 L361.8,250.3 L362.3,275.6 L362.7,296.4 L363.4,282.0 L364.3,268.0 L365.4,257.9 L367.1,251.6 L368.4,247.8 L369.6,240.2 L370.9,232.6 L371.5,225.0 L372.0,210.8 L372.4,197.9 L372.8,213.3 L373.2,225.0 L373.3,263.0 L373.6,298.4 L374.3,285.8 L375.3,275.6 L376.6,266.8 L378.5,264.3 L379.4,255.4 L380.6,248.4 L381.0,263.0 L381.4,282.0 L382.0,296.4 L382.7,282.0 L383.6,273.1 L384.8,265.5 L386.1,261.1 L387.4,256.7 L388.6,247.8 L389.5,237.7 L390.3,228.8 L390.9,201.7 L391.4,225.0 L391.7,263.0 L391.9,302.2 L392.7,288.3 L393.7,278.2 L394.9,271.8 L396.2,264.3 L397.2,261.7 L397.6,275.6 L398.0,295.9 L398.4,315.8 L399.1,298.9 L400.0,293.4 L400.9,284.5 L401.9,276.9 L403.2,271.8 L404.4,269.3 L405.7,260.5 L406.7,247.8 L407.4,235.1 L408.0,219.3 L408.2,237.7 L408.4,275.6 L408.6,315.8 L409.3,298.9 L410.1,288.3 L411.0,278.2 L412.0,273.1 L413.3,268.0 L413.9,278.2 L414.6,295.9 L415.2,315.8 L415.8,298.9 L416.7,290.8 L417.7,279.4 L419.0,271.8 L420.3,269.3 L421.5,265.5 L422.4,257.9 L423.4,244.0 L424.4,232.6 L424.7,250.3 L425.0,275.6 L425.5,311.9 L426.2,295.1 L427.2,287.0 L428.5,283.2 L429.5,275.6 L430.4,268.0 L431.3,263.0 L432.0,259.8 L432.4,269.3 L432.8,288.3 L433.2,308.2 L433.9,292.6 L434.8,285.8 L436.1,279.4 L437.4,275.6 L438.6,269.3 L439.6,260.5 L440.3,244.0 L440.9,232.6 L441.2,250.3 L441.4,282.0 L441.5,311.9 L442.4,292.6 L443.4,287.0 L444.7,285.8 L445.6,279.4 L446.2,273.1 L446.9,271.8 L447.2,282.0 L447.6,301.0 L448.1,319.6 L449.0,298.9 L450.0,295.9 L451.3,290.8 L452.3,285.8 L453.6,287.0 L454.5,279.4 L455.3,273.1 L456.1,268.0 L456.5,282.0 L456.7,301.0 L457.0,325.5 L457.0,325.0 L457.6,308.6 L458.6,298.5 L459.5,290.9 L460.4,287.1 L461.1,280.8 L462.0,275.1 L462.4,285.8 L462.9,302.3 L463.5,323.7 L464.2,308.6 L465.2,296.0 L466.5,285.8 L467.7,280.8 L469.0,275.7 L470.0,270.6 L470.6,261.8 L471.5,253.6 L471.8,270.6 L472.0,296.0 L472.4,329.4 L473.2,311.2 L474.1,301.0 L475.1,294.7 L476.0,292.2 L476.8,287.1 L477.3,293.4 L478.1,301.0 L478.7,308.6 L479.4,319.3 L480.1,306.1 L481.0,296.0 L482.3,289.6 L483.6,285.8 L484.8,282.0 L485.8,273.2 L486.5,263.0 L487.1,251.9 L487.4,270.6 L487.6,296.0 L488.0,317.4 L488.6,303.6 L489.6,294.7 L490.5,290.9 L491.8,285.8 L493.0,281.4 L493.3,296.0 L493.6,315.0 L493.7,331.3 L494.3,316.2 L495.2,306.1 L496.2,298.5 L497.5,290.9 L498.7,293.4 L499.6,287.1 L500.6,278.9 L501.0,290.9 L501.7,308.6 L502.3,325.0 L502.9,311.2 L503.8,298.5 L505.1,292.2 L506.3,290.9 L507.2,280.8 L507.5,296.0 L507.9,315.0 L508.2,329.4 L508.9,316.2 L509.8,306.1 L510.8,296.0 L512.0,288.4 L513.1,287.1 L514.2,280.8 L515.2,275.1 L515.6,289.6 L516.2,306.1 L516.9,321.2 L517.5,311.2 L518.4,302.3 L519.4,298.5 L520.3,295.2 L520.9,301.0 L521.7,308.6 L522.2,321.3 L522.8,335.1 L523.4,321.3 L524.3,308.6 L525.3,298.5 L526.3,290.9 L527.5,288.4 L528.5,280.8 L529.5,270.6 L530.4,260.5 L531.0,256.1 L531.4,277.0 L531.7,298.5 L532.0,319.3 L532.7,308.6 L533.6,298.5 L534.6,292.2 L535.5,288.4 L536.1,284.6 L536.5,298.5 L537.0,321.3 L537.4,337.0 L538.0,321.3 L538.9,308.6 L539.9,299.8 L541.2,296.0 L542.4,296.6 L543.4,288.4 L544.3,282.7 L544.7,296.0 L545.3,308.6 L545.8,319.3 L546.5,308.6 L547.5,298.5 L548.5,292.2 L549.4,290.9 L550.0,287.1 L550.4,302.3 L550.9,321.3 L551.3,340.8 L551.9,326.4 L552.8,313.7 L553.8,303.6 L555.1,293.4 L556.4,290.9 L557.6,282.0 L558.2,277.4 L558.6,292.0 L559.1,311.0 L560.1,329.2 L560.8,318.6 L561.6,309.7 L562.7,303.4 L563.7,302.1 L564.6,294.5 L565.8,288.8 L566.0,311.0 L566.1,334.9 L566.7,323.6 L567.5,311.0 L568.4,300.8 L569.2,292.0 L570.3,293.2 L571.3,285.6 L572.2,279.3 L573.0,270.5 L574.1,259.7 L574.3,285.6 L574.6,311.0 L574.7,321.0 L575.3,311.0 L576.3,303.4 L577.2,299.6 L578.1,298.3 L578.9,290.7 L579.4,286.9 L579.8,304.6 L580.1,323.6 L580.4,338.7 L581.0,326.2 L581.9,314.8 L582.9,305.9 L583.9,300.8 L585.2,300.8 L586.1,293.2 L587.1,285.0 L587.5,300.8 L588.0,317.3 L588.4,331.1 L589.0,318.6 L589.9,307.2 L590.8,300.8 L591.8,298.3 L593.0,290.7 L593.4,305.9 L593.8,323.6 L594.1,336.8 L594.7,323.6 L595.6,311.0 L596.6,300.8 L597.5,294.5 L598.5,290.7 L599.4,293.2 L600.3,285.6 L601.0,279.3 L601.5,292.0 L602.0,311.0 L602.5,325.4 L603.2,316.0 L604.2,307.2 L605.2,304.6 L606.3,299.6 L607.2,297.0 L607.7,308.4 L608.2,323.6 L608.6,338.7 L609.3,326.2 L610.1,313.5 L611.0,305.9 L612.0,302.1 L613.1,299.6 L613.9,290.7 L614.8,283.1 L615.6,274.3 L616.7,265.4 L617.1,285.6 L617.6,311.0 L618.0,336.3 L618.1,355.0 L618.5,375.3 L619.1,366.4 L619.6,383.5 L620.4,367.7 L621.1,355.0 L621.8,342.5 L622.6,362.2 L623.4,343.2 L624.7,333.0 L626.0,319.1 L627.5,314.1 L628.5,306.5 L629.4,296.3 L630.0,315.3 L630.7,331.1 L631.7,315.3 L632.9,303.9 L634.2,301.4 L635.5,290.6 L635.8,321.7 L636.1,340.6 L637.4,321.7 L638.6,305.2 L639.9,295.1 L641.2,290.6 L641.4,315.3 L641.8,340.6 L642.4,359.6 L641.9,355.0 L642.3,367.7 L642.5,405.6 L643.2,370.2 L643.7,418.3 L644.1,436.0 L643.9,442.7 L644.2,498.4 L644.6,502.0 L645.1,500.6 L645.5,500.8 L645.9,502.2 L646.4,502.2 L646.8,501.2 L647.4,500.8 L647.8,498.7 L648.3,501.7 L648.9,502.9 L649.4,501.5 L649.9,501.2 L650.3,501.2 L650.7,498.7 L651.3,498.2 L651.9,500.7 L652.2,500.1 L652.7,501.6 L653.3,498.3 L653.8,501.2 L654.2,499.0 L654.7,500.7 L655.1,498.2 L655.4,500.8 L655.5,522.5 L655.8,501.0 L655.7,500.0 L656.2,501.3 L656.6,498.0 L657.0,500.9 L657.1,500.8 L657.3,493.2 L657.5,501.5 L657.6,503.0 L658.0,500.2 L658.5,499.8 L658.5,500.3 L658.6,493.5 L658.9,501.8 L658.9,497.9 L659.4,499.6 L659.8,498.0 L660.4,499.9 L660.8,499.6 L661.2,500.3 L661.8,501.8 L662.3,496.4 L662.7,501.8 L663.3,501.3 L663.1,500.8 L663.3,516.4 L663.5,500.5 L663.8,499.6 L664.3,500.8 L665.0,500.1 L665.4,499.3 L666.0,499.4 L666.5,500.7 L666.8,499.9 L667.5,499.8 L668.0,500.2 L668.4,502.0 L668.9,499.0 L669.4,501.1 L670.0,501.3 L670.5,500.7 L670.6,500.0 L670.8,512.6 L671.0,501.0 L671.0,496.9 L671.6,499.2 L672.1,502.7 L672.5,499.5 L673.1,502.7 L673.4,501.1 L674.1,502.9 L674.5,500.2 L674.9,499.4 L675.5,500.7 L676.1,502.0 L676.6,502.4 L677.2,501.8 L677.9,500.3 L678.4,499.5 L678.8,504.8 L679.3,497.9 L679.9,499.8 L680.4,502.1 L680.8,502.5 L681.2,503.2 L681.7,501.0 L682.3,501.8 L682.9,501.2 L683.5,498.6 L684.0,501.2 L684.5,500.9 L685.0,501.6 L685.7,499.6 L686.3,501.4 L686.7,499.5 L687.2,501.0 L687.8,503.2 L688.2,500.2 L688.6,501.1 L689.2,498.1 L689.8,500.7 L690.2,503.4 L690.7,500.1 L691.3,500.3 L691.9,503.5 L692.4,497.8 L692.8,501.9 L693.4,499.7 L694.0,499.8 L694.4,500.4 L695.0,500.5 L695.4,502.6 L695.8,503.4 L696.2,500.2 L696.8,500.8 L697.3,502.1 L697.7,500.3 L698.1,500.4 L698.6,501.9 L699.3,502.3 L699.8,500.2 L700.2,502.0 L700.7,501.0 L701.3,502.0 L701.8,502.2 L702.2,497.3 L702.7,502.4 L703.1,498.9 L703.8,500.6 L704.4,501.8 L704.9,501.9 L704.9,499.8 L705.0,489.4 L705.2,499.2 L705.3,503.1 L705.8,501.1 L706.2,500.9 L706.7,502.2 L707.2,500.0 L707.8,502.7 L708.3,503.0 L708.8,501.3 L709.1,500.9 L709.7,501.0 L710.3,503.1 L710.8,498.3 L711.4,501.0 L711.4,500.1 L711.5,470.1 L711.8,499.6 L711.9,503.5 L712.4,498.8 L712.2,501.0 L712.4,512.5 L712.6,500.9 L712.9,498.5 L713.2,499.2 L713.4,491.6 L713.6,501.3 L713.5,500.1 L713.9,497.4 L714.3,503.7 L714.9,499.1 L715.4,502.6 L716.0,501.6 L716.6,502.5 L717.0,502.6 L717.5,500.4 L717.9,499.9 L718.5,502.1 L718.9,501.4 L719.6,498.7 L720.1,502.0 L720.7,496.5 L721.1,500.8 L721.6,502.8 L722.1,501.3 L722.5,501.2 L723.1,500.8 L723.6,497.6 L723.9,499.1 L724.3,499.8 L724.8,502.4 L725.4,503.0 L725.8,500.6 L726.3,502.8 L726.8,504.4 L727.2,501.1 L727.8,502.8 L728.2,499.5 L728.7,498.3 L729.2,503.9 L729.6,501.3 L730.2,501.9 L730.7,502.6 L731.3,500.0 L731.9,499.9 L732.5,503.3 L733.1,502.2 L733.7,497.7 L734.2,502.1 L734.6,500.6 L735.2,499.7 L735.7,500.1 L736.2,501.5 L736.6,503.7 L737.0,503.0 L737.5,502.0 L737.8,502.2 L738.2,499.7 L738.7,499.0 L739.3,499.6 L739.7,498.9 L740.3,499.1 L740.4,498.9 L740.5,505.5 L740.8,499.4 L740.7,499.3 L741.2,503.1 L741.8,498.4 L742.2,501.2 L742.5,502.0 L743.1,500.4 L743.7,503.5 L744.3,500.0 L744.9,502.7 L745.4,501.8 L746.0,499.9 L746.5,502.3 L747.0,499.6 L747.5,500.9 L748.0,501.1 L748.5,503.5 L749.0,500.1 L749.4,499.7 L749.8,498.2 L750.2,499.6 L750.7,504.0 L751.1,499.6 L751.6,499.9 L752.2,498.8 L752.6,499.4 L753.0,502.5 L753.5,500.6 L754.0,499.6 L754.6,500.7 L755.0,500.6 L755.5,500.5 L756.0,500.0 L756.6,498.8 L757.1,498.4 L757.7,501.0 L758.1,500.1 L758.7,501.6 L759.2,502.2 L759.8,500.5 L760.4,502.7 L760.8,500.7 L761.1,502.0 L761.1,500.9 L761.3,506.8 L761.5,499.7 L761.6,499.3 L762.1,500.7 L762.7,500.9 L763.2,501.9 L763.7,501.1 L764.2,500.0 L764.6,501.0 L765.0,497.7 L765.4,501.1 L765.8,498.7 L766.2,503.1 L766.8,499.7 L767.4,498.3 L768.0,498.6 L768.4,499.3 L769.1,498.6 L769.4,500.2 L769.5,507.0 L769.8,499.7 L769.6,503.2 L770.2,502.6 L770.7,500.9 L771.2,498.3 L771.6,502.2 L772.2,498.4 L772.8,499.9 L773.3,500.3 L773.8,500.1 L774.4,499.9 L774.7,499.0 L775.2,501.9 L775.5,499.9 L776.1,502.0 L776.7,500.9 L777.2,501.3 L777.5,499.9 L778.1,498.6 L778.6,501.6 L779.2,499.4 L779.6,501.6 L780.0,501.8 L780.5,498.4 L781.0,498.9 L781.6,498.3 L782.2,500.0 L782.6,499.7 L783.1,500.8 L783.5,499.0 L784.1,500.1 L784.7,503.8 L785.2,501.1 L785.7,502.3 L786.1,501.1 L786.7,499.4 L787.2,502.0 L787.5,501.9 L787.6,504.5 L787.9,500.2 L787.9,499.2 L788.4,499.2 L788.9,503.4 L789.3,500.8 L789.6,499.7 L790.2,501.7 L790.4,500.5 L790.5,481.5 L790.8,500.5 L790.6,501.2 L791.0,500.5 L791.1,516.3 L791.4,501.3 L791.2,501.6 L791.6,502.1 L791.9,501.3 L792.5,498.0 L793.1,502.9 L793.8,499.7 L794.3,501.5 L794.7,499.4 L795.3,496.8 L795.9,501.7 L796.6,502.3 L797.1,500.7 L797.5,497.7 L798.0,498.8 L798.5,501.3 L799.1,500.0 L799.2,500.8 L799.4,489.4 L799.6,501.4 L799.6,500.9 L800.2,499.7 L800.8,498.8 L801.1,501.5 L801.6,498.9 L802.2,498.4 L802.7,501.6 L803.3,501.7 L803.7,500.0 L804.3,502.3 L804.8,499.9 L805.2,500.7 L805.7,499.9 L805.9,499.9 L806.0,505.0 L806.2,500.2 L806.2,498.6 L806.8,498.6 L807.2,500.5 L807.8,501.7 L808.3,500.5 L808.6,500.3 L809.2,502.1 L809.7,500.2 L810.1,502.2 L810.7,500.4 L811.3,499.5 L811.8,496.1 L812.5,500.3 L813.0,500.5 L813.4,498.7 L814.0,500.1 L814.4,497.3 L815.0,502.2 L815.4,503.1 L815.2,500.3 L815.4,481.5 L815.6,500.7 L815.8,499.3 L816.4,501.7 L817.0,499.3 L817.6,499.6 L818.2,500.0 L818.8,502.1 L819.2,498.1 L819.7,498.9 L820.1,500.8 L820.5,500.6" stroke="#0072bd" stroke-width="1.15"/>
</g>
<rect x="71.5" y="58.5" width="749.0" height="498.0" fill="none" stroke="#b6b6b6" stroke-width="0.95"/>
<text x="73.6" y="575.0" font-size="15.4" text-anchor="middle" font-weight="normal" fill="#262626" textLength="24.2" lengthAdjust="spacingAndGlyphs">-10</text>
<text x="156.2" y="575.0" font-size="15.4" text-anchor="middle" font-weight="normal" fill="#262626" textLength="8.8" lengthAdjust="spacingAndGlyphs">0</text>
<text x="239.4" y="575.0" font-size="15.4" text-anchor="middle" font-weight="normal" fill="#262626" textLength="17.6" lengthAdjust="spacingAndGlyphs">10</text>
<text x="322.6" y="575.0" font-size="15.4" text-anchor="middle" font-weight="normal" fill="#262626" textLength="17.6" lengthAdjust="spacingAndGlyphs">20</text>
<text x="405.8" y="575.0" font-size="15.4" text-anchor="middle" font-weight="normal" fill="#262626" textLength="17.6" lengthAdjust="spacingAndGlyphs">30</text>
<text x="489.0" y="575.0" font-size="15.4" text-anchor="middle" font-weight="normal" fill="#262626" textLength="17.6" lengthAdjust="spacingAndGlyphs">40</text>
<text x="572.2" y="575.0" font-size="15.4" text-anchor="middle" font-weight="normal" fill="#262626" textLength="17.6" lengthAdjust="spacingAndGlyphs">50</text>
<text x="655.4" y="575.0" font-size="15.4" text-anchor="middle" font-weight="normal" fill="#262626" textLength="17.6" lengthAdjust="spacingAndGlyphs">60</text>
<text x="738.6" y="575.0" font-size="15.4" text-anchor="middle" font-weight="normal" fill="#262626" textLength="17.6" lengthAdjust="spacingAndGlyphs">70</text>
<text x="821.8" y="575.0" font-size="15.4" text-anchor="middle" font-weight="normal" fill="#262626" textLength="17.6" lengthAdjust="spacingAndGlyphs">80</text>
<text x="71.7" y="562.5" font-size="15.4" text-anchor="end" font-weight="normal" fill="#262626" textLength="24.2" lengthAdjust="spacingAndGlyphs">-10</text>
<text x="69.9" y="507.2" font-size="15.4" text-anchor="end" font-weight="normal" fill="#262626" textLength="8.8" lengthAdjust="spacingAndGlyphs">0</text>
<text x="69.9" y="451.9" font-size="15.4" text-anchor="end" font-weight="normal" fill="#262626" textLength="17.6" lengthAdjust="spacingAndGlyphs">10</text>
<text x="69.9" y="396.6" font-size="15.4" text-anchor="end" font-weight="normal" fill="#262626" textLength="17.6" lengthAdjust="spacingAndGlyphs">20</text>
<text x="69.9" y="341.3" font-size="15.4" text-anchor="end" font-weight="normal" fill="#262626" textLength="17.6" lengthAdjust="spacingAndGlyphs">30</text>
<text x="69.9" y="286.0" font-size="15.4" text-anchor="end" font-weight="normal" fill="#262626" textLength="17.6" lengthAdjust="spacingAndGlyphs">40</text>
<text x="69.9" y="230.7" font-size="15.4" text-anchor="end" font-weight="normal" fill="#262626" textLength="17.6" lengthAdjust="spacingAndGlyphs">50</text>
<text x="69.9" y="175.4" font-size="15.4" text-anchor="end" font-weight="normal" fill="#262626" textLength="17.6" lengthAdjust="spacingAndGlyphs">60</text>
<text x="69.9" y="120.1" font-size="15.4" text-anchor="end" font-weight="normal" fill="#262626" textLength="17.6" lengthAdjust="spacingAndGlyphs">70</text>
<text x="69.9" y="64.8" font-size="15.4" text-anchor="end" font-weight="normal" fill="#262626" textLength="17.6" lengthAdjust="spacingAndGlyphs">80</text>
<text x="452.2" y="594.6" font-size="16" text-anchor="middle" font-weight="normal" fill="#262626" textLength="82.3" lengthAdjust="spacingAndGlyphs">Time [ms]</text>
<text transform="translate(42.0,300.6) rotate(-90)" font-size="16" text-anchor="middle" fill="#262626" textLength="88.5" lengthAdjust="spacingAndGlyphs">Current [A]</text>
<text x="237.9" y="52.0" font-size="14.6" text-anchor="start" font-weight="bold" fill="#000" textLength="66.6" lengthAdjust="spacingAndGlyphs" stroke="#000" stroke-width="0.35">Current</text>
<text x="310.5" y="52.0" font-size="14.6" text-anchor="start" font-weight="bold" fill="#000" textLength="55.0" lengthAdjust="spacingAndGlyphs" stroke="#000" stroke-width="0.35">drawn</text>
<text x="372.1" y="52.0" font-size="14.6" text-anchor="start" font-weight="bold" fill="#000" textLength="19.4" lengthAdjust="spacingAndGlyphs" stroke="#000" stroke-width="0.35">as</text>
<text x="397.1" y="52.0" font-size="14.6" text-anchor="start" font-weight="bold" fill="#000" textLength="72.4" lengthAdjust="spacingAndGlyphs" stroke="#000" stroke-width="0.35">function</text>
<text x="475.5" y="52.0" font-size="14.6" text-anchor="start" font-weight="bold" fill="#000" textLength="18.0" lengthAdjust="spacingAndGlyphs" stroke="#000" stroke-width="0.35">of</text>
<text x="498.5" y="52.0" font-size="14.6" text-anchor="start" font-weight="bold" fill="#000" textLength="39.6" lengthAdjust="spacingAndGlyphs" stroke="#000" stroke-width="0.35">time</text>
<text x="544.5" y="52.0" font-size="14.6" text-anchor="start" font-weight="bold" fill="#000" textLength="8.0" lengthAdjust="spacingAndGlyphs" stroke="#000" stroke-width="0.35">-</text>
<text x="556.5" y="52.0" font-size="14.6" text-anchor="start" font-weight="bold" fill="#000" textLength="54.0" lengthAdjust="spacingAndGlyphs" stroke="#000" stroke-width="0.35">Singls</text>
<text x="615.1" y="52.0" font-size="14.6" text-anchor="start" font-weight="bold" fill="#000" textLength="47.0" lengthAdjust="spacingAndGlyphs" stroke="#000" stroke-width="0.35">Shot,</text>
<text x="667.1" y="52.0" font-size="14.6" text-anchor="start" font-weight="bold" fill="#000" textLength="25.4" lengthAdjust="spacingAndGlyphs" stroke="#000" stroke-width="0.35">TM</text>
<text x="698.5" y="52.0" font-size="14.6" text-anchor="start" font-weight="bold" fill="#000" textLength="33.0" lengthAdjust="spacingAndGlyphs" stroke="#000" stroke-width="0.35">P90</text>
<rect x="646.7" y="63.5" width="169.4" height="33.9" fill="#fff" stroke="#c6c6c6" stroke-width="0.9"/>
<path d="M651,71.5 H664.9" stroke="#0072bd" stroke-width="1.1"/>
<path d="M651,87.7 H664.9" stroke="#d95319" stroke-width="1.1"/>
<text x="666.8" y="76.4" font-size="13.2" text-anchor="start" font-weight="normal" fill="#111" textLength="146.2" lengthAdjust="spacingAndGlyphs">Battery voltage 8.42 V</text>
<text x="666.8" y="92.8" font-size="13.2" text-anchor="start" font-weight="normal" fill="#111" textLength="146.2" lengthAdjust="spacingAndGlyphs">Battery voltage 7.61 V</text>
<path d="M154.9,507 V545.3 M630.1,506.6 V529.2 M644.1,506.6 V545.3" stroke="#a6a6a6" stroke-width="1.5" fill="none"/>
<path d="M160,523.4 H625 M160,539.6 H639" stroke="#2a2a2a" stroke-width="0.9" fill="none"/>
<path d="M154.9,523.4 L161.8,519.6999999999999 L161.8,527.1 Z M630.3,523.4 L623.4,519.6999999999999 L623.4,527.1 Z M154.9,539.6 L161.8,535.9 L161.8,543.3000000000001 Z M644.3,539.6 L637.4,535.9 L637.4,543.3000000000001 Z" fill="#000"/>
<text x="404.6" y="520.0" font-size="13.33" text-anchor="middle" font-weight="normal" fill="#111">57.5 ms</text>
<text x="404.6" y="537.5" font-size="13.33" text-anchor="middle" font-weight="normal" fill="#111">58.7 ms</text>
<path d="M210.6,101 L231.7,88.6 M214.9,122.0 L312.5,107.6" stroke="#2b2b2b" stroke-width="0.85" fill="none"/>
<circle cx="208.5" cy="103.2" r="3.05" fill="none" stroke="#2b2b2b" stroke-width="0.85"/>
<circle cx="212.0" cy="122.6" r="3.05" fill="none" stroke="#2b2b2b" stroke-width="0.85"/>
<text x="232.5" y="93.7" font-size="13.33" text-anchor="start" font-weight="normal" fill="#111">Peak current: 71.90 A</text>
<text x="312.8" y="112.7" font-size="13.33" text-anchor="start" font-weight="normal" fill="#111">Peak current: 68.76 A</text>
</svg></body></html>
